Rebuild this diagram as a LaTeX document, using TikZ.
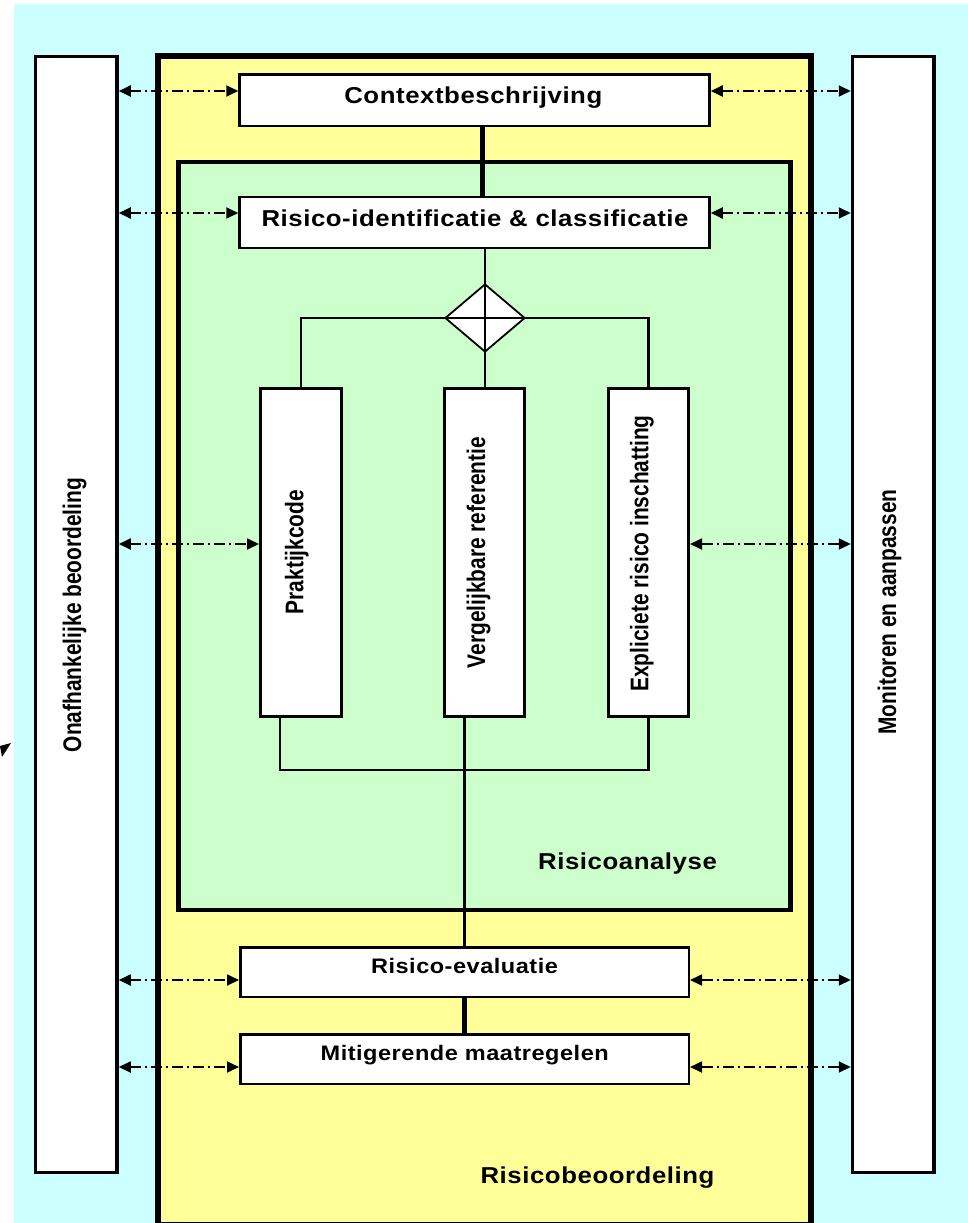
\documentclass[tikz,border=0pt]{standalone}
\usepackage{fontspec}
\usetikzlibrary{arrows.meta,shapes.geometric}
\newfontfamily\hfont{Liberation Sans}[FakeStretch=1.12,LetterSpace=2.5]
\newfontfamily\nfont{Liberation Sans}[FakeStretch=0.82]
\definecolor{bgcyan}{HTML}{CCFFFF}
\definecolor{ryellow}{HTML}{FFFF99}
\definecolor{rgreen}{HTML}{CCFFCC}
\begin{document}
\begin{tikzpicture}[x=1pt,y=-1pt,
  hbox/.style={draw=black, fill=white, line width=2.5pt, inner sep=0pt, minimum width=470pt, minimum height=51pt},
  vbox/.style={draw=black, fill=white, line width=3pt, inner sep=0pt, minimum width=80pt, minimum height=328pt},
  sidebox/.style={draw=black, fill=white, line width=3.5pt, inner sep=0pt, minimum width=81.5pt, minimum height=1116pt},
  htext/.style={font=\hfont\bfseries\fontsize{#1}{#1}\selectfont, inner sep=0pt, anchor=base},
  htext/.default=23,
  vtext/.style={font=\nfont\bfseries\fontsize{25.5}{30}\selectfont, inner sep=0pt, anchor=base, rotate=90},
  conn/.style={line width=2.1pt},
  thickconn/.style={line width=5pt},
  dd/.style={{Triangle[length=12pt,width=11pt]}-{Triangle[length=12pt,width=11pt]}, line width=1.8pt, dash pattern=on 11pt off 4pt on 2pt off 4pt}
]
\useasboundingbox (0,0) rectangle (968,1223);
\clip (0,0) rectangle (968,1223);
\fill[white] (0,0) rectangle (968,1223);
\fill[bgcyan] (14,4) rectangle (968,1223);
\draw[fill=ryellow, line width=6pt] (158,56.5) rectangle (810.5,1225);
\draw[fill=rgreen, line width=4.5pt] (178.5,162) rectangle (790.5,910);
\fill (0,746) -- (11,743) -- (2,757) -- cycle;

% side boxes
\node[sidebox] (lb) at (76.25,614.5) {};
\node[sidebox] (rb) at (893.25,614.5) {};
\node[vtext] (lbt) at (81,615) {Onafhankelijke beoordeling};
\node[vtext] (rbt) at (896,612) {Monitoren en aanpassen};

% process boxes
\node[hbox] (ctx) at (474.5,100.25) {};
\node[hbox] (rid) at (474.5,222.5) {};
\node[vbox, minimum width=81pt] (pk) at (301,552.5) {};
\node[vbox] (vg) at (484.5,552.5) {};
\node[vbox] (ex) at (648.5,552.5) {};
\node[hbox, minimum width=448.5pt, minimum height=49.5pt] (ev) at (464.5,972) {};
\node[hbox, minimum width=448.5pt, minimum height=49.5pt] (mit) at (464.5,1059) {};

% connectors
\coordinate (xc) at (482.5,0);
\draw[thickconn] (ctx.south -| xc) -- (rid.north -| xc);
\node[diamond, draw=black, fill=white, line width=1.8pt, minimum width=80pt, minimum height=68pt, inner sep=0pt] (dia) at (485,318) {};
\draw[conn] (rid.south -| dia) -- (vg.north -| dia);
\draw[conn] (pk.north) |- (dia.center) -| (ex.north);
\coordinate (bl) at (280,770);
\draw[conn] (pk.south -| bl) |- (ex.south |- bl) -- (ex.south);
\draw[conn] (vg.south -| ev.north) -- (ev.north);
\draw[line width=4.5pt] (ev.south) -- (mit.north);

% dash-dot arrows
\coordinate (y1) at (0,91);
\coordinate (y2) at (0,213);
\coordinate (y3) at (0,544);
\coordinate (y4) at (0,980);
\coordinate (y5) at (0,1067);
\draw[dd] (lb.east |- y1) -- (ctx.west |- y1);
\draw[dd] (ctx.east |- y1) -- (rb.west |- y1);
\draw[dd] (lb.east |- y2) -- (rid.west |- y2);
\draw[dd] (rid.east |- y2) -- (rb.west |- y2);
\draw[dd] (lb.east |- y3) -- (pk.west |- y3);
\draw[dd] (ex.east |- y3) -- (rb.west |- y3);
\draw[dd] (lb.east |- y4) -- (ev.west |- y4);
\draw[dd] (ev.east |- y4) -- (rb.west |- y4);
\draw[dd] (lb.east |- y5) -- (mit.west |- y5);
\draw[dd] (mit.east |- y5) -- (rb.west |- y5);

% texts
\node[htext] (ctxt) at (473.3,103.3) {Contextbeschrijving};
\node[htext] (ridt) at (475,226) {Risico-identificatie \& classificatie};
\node[htext=21] (evt) at (464.5,973) {Risico-evaluatie};
\node[htext=21] (mitt) at (464.7,1060.7) {Mitigerende maatregelen};
\node[htext] (rat) at (627.5,869) {Risicoanalyse};
\node[htext] (rbl) at (597.5,1183) {Risicobeoordeling};
\node[vtext] (pkt) at (303.3,552) {Praktijkcode};
\node[vtext] (vgt) at (485,552.5) {Vergelijkbare referentie};
\node[vtext] (ext) at (648.3,553.5) {Expliciete risico inschatting};
\end{tikzpicture}
\end{document}
